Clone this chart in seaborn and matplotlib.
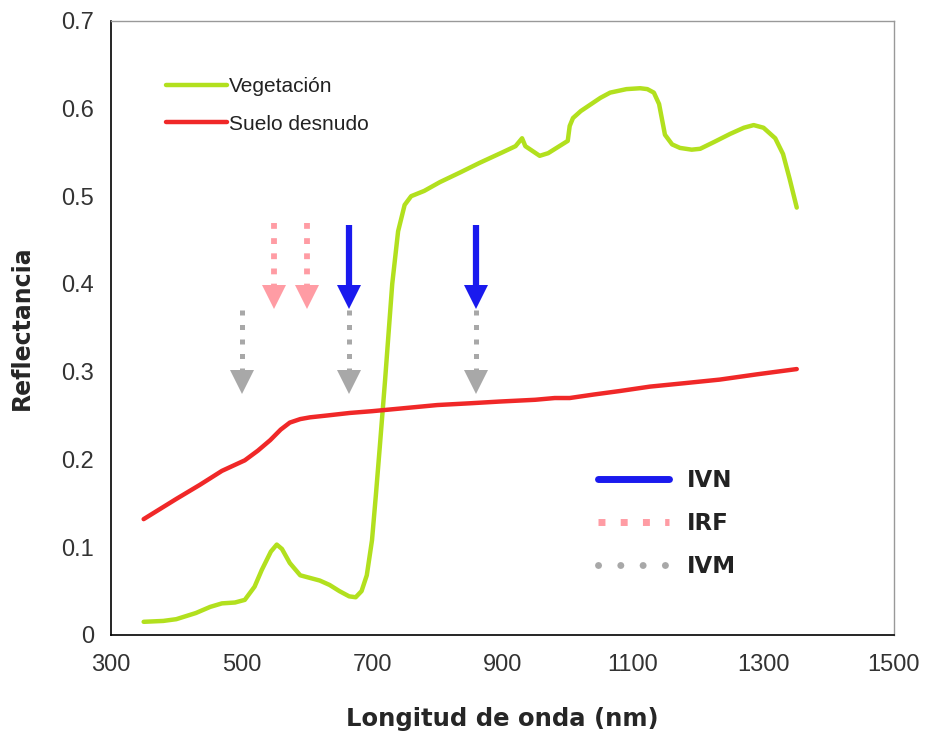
import numpy as np
import pandas as pd
import matplotlib
matplotlib.use("Agg")
import matplotlib.pyplot as plt
from matplotlib.lines import Line2D
import seaborn as sns

# --- data ---
veg_wl = [350, 380, 400, 430, 452, 470, 490, 505, 520, 531, 545, 554, 562, 574, 590, 605, 620, 635, 650, 665, 675, 684, 692,
          700, 706, 712, 720, 731, 740, 750, 760, 780, 804, 835, 865, 900, 920, 930, 935, 945, 957, 970, 985, 1000, 1003, 1008,
          1020, 1034, 1050, 1065, 1090, 1111, 1122, 1132, 1140, 1149, 1160, 1172, 1190, 1203, 1225, 1249, 1270, 1285, 1300,
          1318, 1330, 1340, 1351]
veg_r = [0.015, 0.016, 0.018, 0.025, 0.032, 0.036, 0.037, 0.040, 0.055, 0.074, 0.095, 0.103, 0.098, 0.082, 0.068, 0.065,
         0.062, 0.057, 0.050, 0.044, 0.043, 0.050, 0.068, 0.108, 0.160, 0.215, 0.290, 0.400, 0.460, 0.490, 0.500, 0.506,
         0.516, 0.527, 0.538, 0.550, 0.557, 0.566, 0.557, 0.552, 0.546, 0.549, 0.556, 0.563, 0.580, 0.589, 0.597, 0.604,
         0.612, 0.618, 0.622, 0.623, 0.622, 0.618, 0.605, 0.570, 0.559, 0.555, 0.553, 0.554, 0.562, 0.571, 0.578, 0.581,
         0.578, 0.566, 0.548, 0.520, 0.487]

soil_wl = [350, 400, 436, 470, 505, 525, 544, 560, 574, 590, 605, 630, 666, 700, 743, 800, 850, 896, 950, 980, 1003, 1040,
           1080, 1126, 1180, 1233, 1290, 1351]
soil_r = [0.132, 0.155, 0.171, 0.187, 0.199, 0.210, 0.222, 0.234, 0.242, 0.246, 0.248, 0.250, 0.253, 0.255, 0.258, 0.262,
          0.264, 0.266, 0.268, 0.270, 0.270, 0.274, 0.278, 0.283, 0.287, 0.291, 0.297, 0.303]

ivn_wl = [665, 860]
irf_wl = [550, 600]
ivm_wl = [500, 665, 860]
ivn_y = (0.467, 0.373)   # shaft top, arrow tip
irf_y = (0.470, 0.373)
ivm_y = (0.370, 0.276)

series_labels = ["Vegetación", "Suelo desnudo"]
index_labels = ["IVN", "IRF", "IVM"]
xticks = [300, 500, 700, 900, 1100, 1300, 1500]
yticks = [0, 0.1, 0.2, 0.3, 0.4, 0.5, 0.6, 0.7]
ytick_labels = ["0", "0.1", "0.2", "0.3", "0.4", "0.5", "0.6", "0.7"]

GREEN = "#b2e01e"
RED = "#f02828"
BLUE = "#1a1aee"
PINK = "#ff9ca4"
GREY = "#a8a8a8"

sns.set_style("white")
plt.rcParams['font.family'] = ['Liberation Sans', 'DejaVu Sans']

fig = plt.figure(figsize=(9.26, 7.38), dpi=100)
ax = fig.add_axes([0.1199, 0.1396, 0.8455, 0.8324])

df_veg = pd.DataFrame({"wl": veg_wl, "r": veg_r})
df_soil = pd.DataFrame({"wl": soil_wl, "r": soil_r})
sns.lineplot(data=df_veg, x="wl", y="r", ax=ax, color=GREEN, lw=3.2, label=series_labels[0])
sns.lineplot(data=df_soil, x="wl", y="r", ax=ax, color=RED, lw=3.2, label=series_labels[1])

def arrow(x, ytop, ytip, color, lw, dashes=None, msize=17):
    head = 0.027
    line, = ax.plot([x, x], [ytop, ytip + head * 0.9], color=color, lw=lw, solid_capstyle='butt',
                    dash_capstyle='butt')
    if dashes is not None:
        line.set_dashes(dashes)
    ax.plot([x], [ytip + head * 0.45], marker='v', markersize=msize, color=color, markeredgewidth=0)

for x in irf_wl:
    arrow(x, irf_y[0], irf_y[1], PINK, 4.2, dashes=(1, 1.6))
for x in ivm_wl:
    arrow(x, ivm_y[0], ivm_y[1], GREY, 3.6, dashes=(1, 1.9))
for x in ivn_wl:
    arrow(x, ivn_y[0], ivn_y[1], BLUE, 4.5)

ax.set_xlim(300, 1500)
ax.set_ylim(0, 0.7)
ax.set_xticks(xticks)
ax.set_xticklabels([str(t) for t in xticks])
ax.set_yticks(yticks)
ax.set_yticklabels(ytick_labels)
ax.tick_params(axis='both', direction='out', length=6, width=1, labelsize=17, colors='black',
               labelcolor='#333333', pad=6)
ax.tick_params(axis='x', pad=8)
ax.set_xlabel("Longitud de onda (nm)", fontsize=17.5, fontweight='bold', family=['DejaVu Sans'], labelpad=22)
ax.set_ylabel("Reflectancia", fontsize=17, fontweight='bold', family=['DejaVu Sans'], labelpad=20)

for s in ['left', 'bottom']:
    ax.spines[s].set_color('black')
    ax.spines[s].set_linewidth(1.2)
for s in ['top', 'right']:
    ax.spines[s].set_color('#999999')
    ax.spines[s].set_linewidth(1.0)

leg1 = ax.legend(loc='upper left', bbox_to_anchor=(0.06, 0.922), frameon=False, fontsize=15,
                 handlelength=2.9, handletextpad=0.1, labelspacing=0.9, borderaxespad=0)
for t in leg1.get_texts():
    t.set_color('#222222')
ax.add_artist(leg1)

h_ivn = Line2D([], [], color=BLUE, lw=5)
h_irf = Line2D([], [], color=PINK, lw=5, dashes=(1.0, 2.2), dash_capstyle='butt')
h_ivm = Line2D([], [], color=GREY, lw=5, dashes=(0.01, 3.2), dash_capstyle='round')
leg2 = ax.legend([h_ivn, h_irf, h_ivm], index_labels, loc='upper left', bbox_to_anchor=(0.61, 0.285),
                 frameon=False, handlelength=3.1, handletextpad=0.8, labelspacing=0.88, borderaxespad=0,
                 prop={'size': 16.5, 'weight': 'bold', 'family': 'DejaVu Sans'})
for t in leg2.get_texts():
    t.set_color('#222222')

fig.savefig("out.png", dpi=100, facecolor='white')
